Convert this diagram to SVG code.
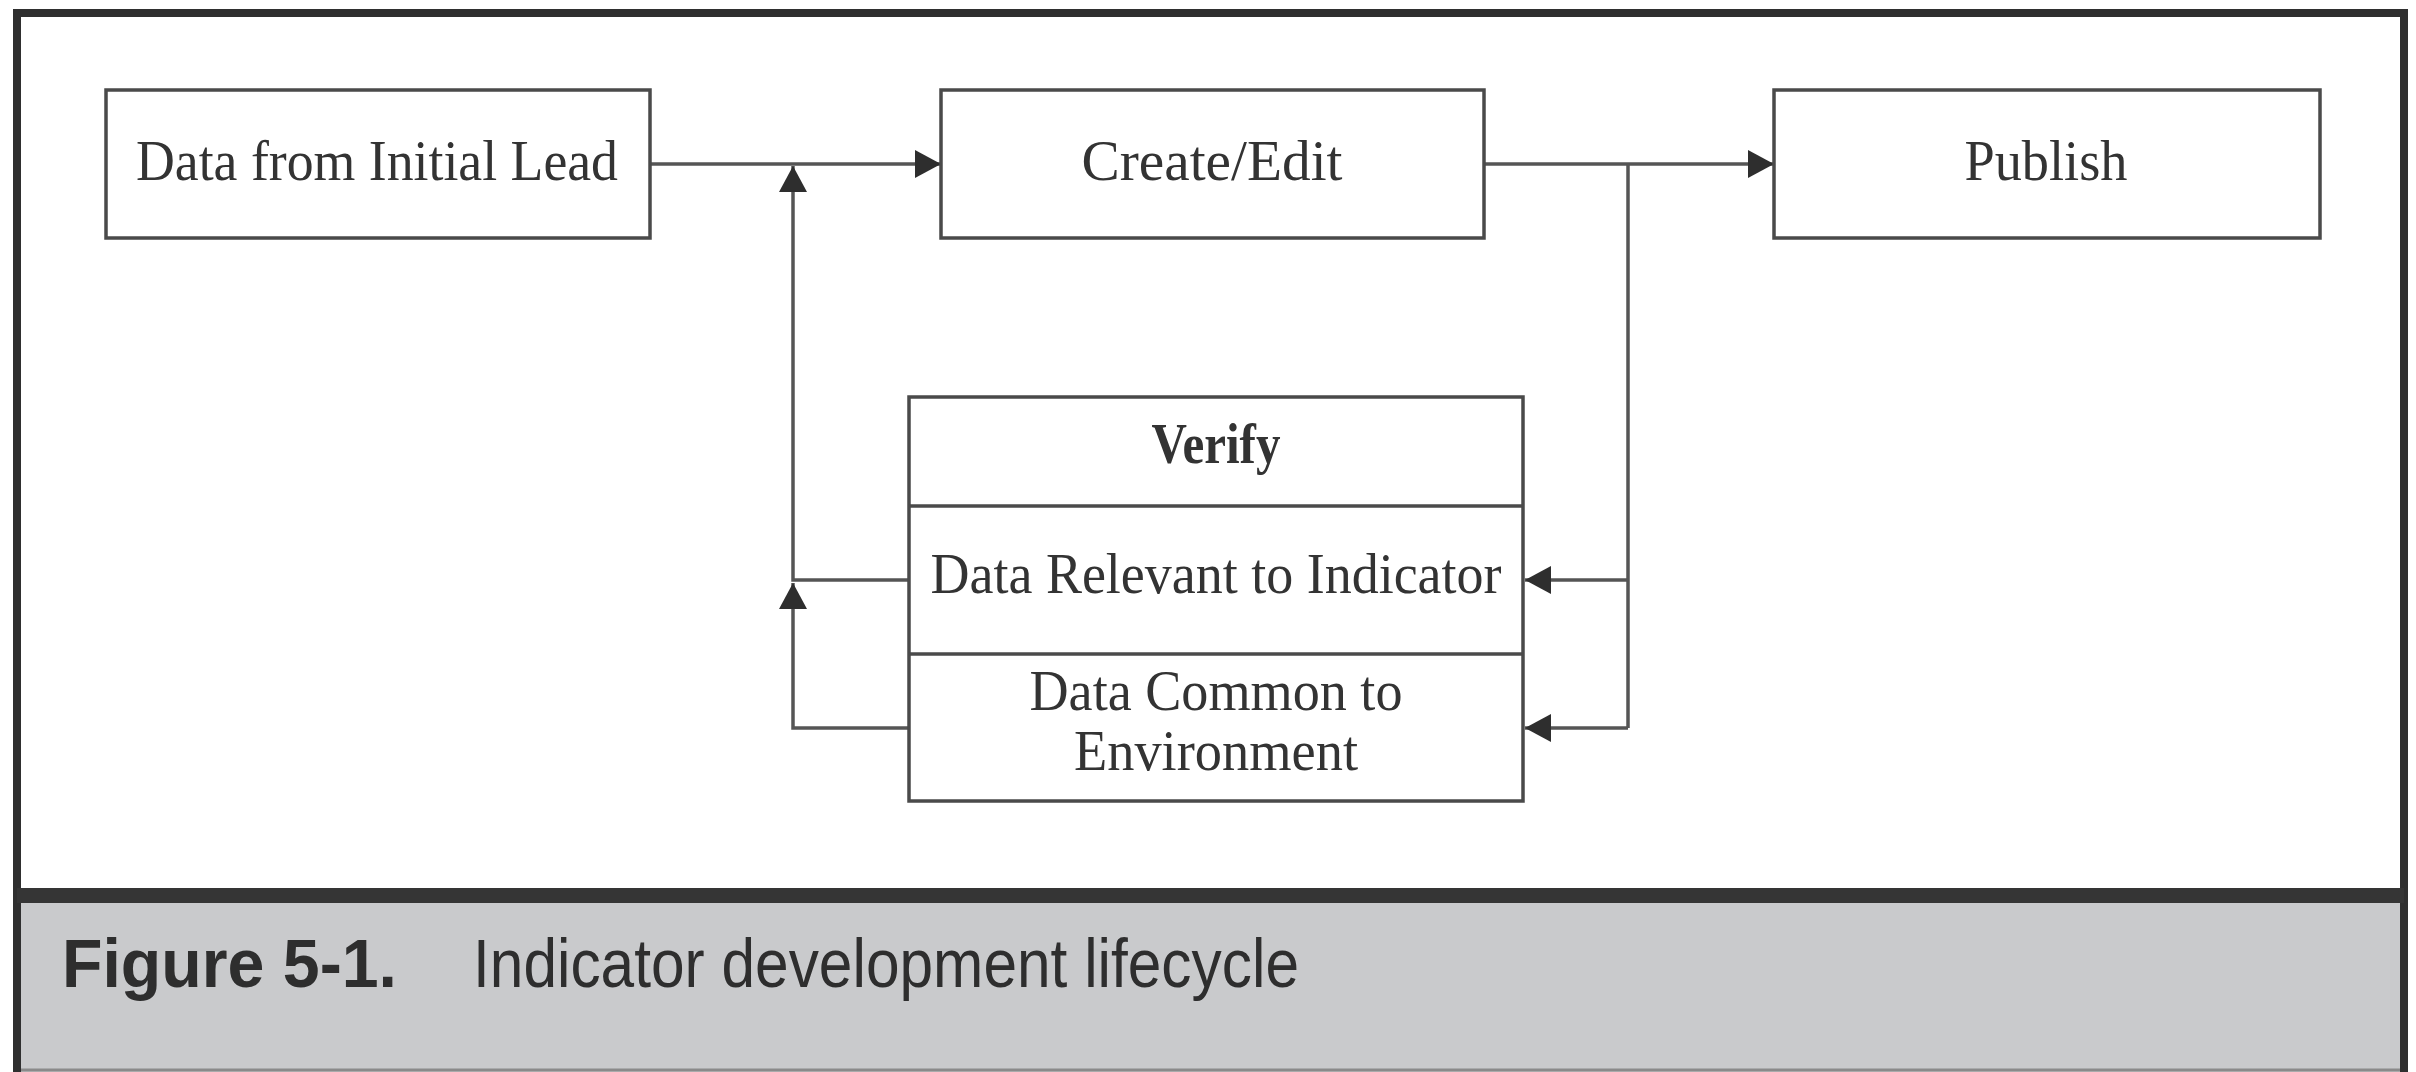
<svg xmlns="http://www.w3.org/2000/svg" width="2416" height="1072" viewBox="0 0 2416 1072">
  <defs>
    <style>
      .box { fill: #ffffff; stroke: #4a4a4a; stroke-width: 3.5; }
      .div { stroke: #4a4a4a; stroke-width: 3.5; fill: none; }
      .lbl { font-family: "Liberation Serif", "Times New Roman", serif; font-size: 57px; fill: #333333; text-anchor: middle; }
      .bold { font-weight: bold; }
      .conn { fill: none; stroke: #555555; stroke-width: 3.5; }
      .cap { font-family: "Liberation Sans", Arial, sans-serif; font-size: 69px; fill: #2e2e2e; }
    </style>
    <marker id="arrow" markerUnits="userSpaceOnUse" markerWidth="28" markerHeight="30" refX="27" refY="15" orient="auto" viewBox="0 0 28 30">
      <path d="M1,1 L27,15 L1,29 Z" fill="#2e2e2e"/>
    </marker>
  </defs>

  <!-- background and frame -->
  <rect x="0" y="0" width="2416" height="1072" fill="#ffffff"/>
  <rect x="17" y="903" width="2387" height="169" fill="#c9cacc"/>
  <line x1="17" y1="1070" x2="2404" y2="1070" stroke="#8a8a8a" stroke-width="3"/>
  <path d="M17,1072 L17,13 L2404,13 L2404,1072" fill="none" stroke="#2f2f2f" stroke-width="8"/>
  <line x1="17" y1="895.5" x2="2404" y2="895.5" stroke="#353535" stroke-width="15"/>

  <!-- caption -->
  <g id="caption">
    <text class="cap bold" x="62" y="987" textLength="335" lengthAdjust="spacingAndGlyphs">Figure 5-1.</text>
    <text class="cap" x="473" y="987" textLength="826" lengthAdjust="spacingAndGlyphs">Indicator development lifecycle</text>
  </g>

  <!-- connectors -->
  <g id="connectors">
    <line class="conn" x1="650" y1="164" x2="941" y2="164" marker-end="url(#arrow)"/>
    <line class="conn" x1="1484" y1="164" x2="1774" y2="164" marker-end="url(#arrow)"/>
    <line class="conn" x1="1628" y1="164" x2="1628" y2="728"/>
    <line class="conn" x1="1628" y1="580" x2="1525" y2="580" marker-end="url(#arrow)"/>
    <line class="conn" x1="1628" y1="728" x2="1525" y2="728" marker-end="url(#arrow)"/>
    <polyline class="conn" points="909,580 793,580 793,166" marker-end="url(#arrow)"/>
    <polyline class="conn" points="909,728 793,728 793,583" marker-end="url(#arrow)"/>
  </g>

  <!-- nodes -->
  <g id="node-initial-lead">
    <rect class="box" x="106" y="90" width="544" height="148"/>
    <text class="lbl" x="377" y="180" textLength="482" lengthAdjust="spacingAndGlyphs">Data from Initial Lead</text>
  </g>

  <g id="node-create-edit">
    <rect class="box" x="941" y="90" width="543" height="148"/>
    <text class="lbl" x="1212" y="180" textLength="261" lengthAdjust="spacingAndGlyphs">Create/Edit</text>
  </g>

  <g id="node-publish">
    <rect class="box" x="1774" y="90" width="546" height="148"/>
    <text class="lbl" x="2046" y="180" textLength="163" lengthAdjust="spacingAndGlyphs">Publish</text>
  </g>

  <g id="node-verify">
    <rect class="box" x="909" y="397" width="614" height="404"/>
    <line class="div" x1="909" y1="506" x2="1523" y2="506"/>
    <line class="div" x1="909" y1="654" x2="1523" y2="654"/>
    <text class="lbl bold" x="1216" y="463" textLength="129" lengthAdjust="spacingAndGlyphs">Verify</text>
    <text class="lbl" x="1216" y="593" textLength="571" lengthAdjust="spacingAndGlyphs">Data Relevant to Indicator</text>
    <text class="lbl" x="1216" y="710" textLength="373" lengthAdjust="spacingAndGlyphs">Data Common to</text>
    <text class="lbl" x="1216" y="770" textLength="284" lengthAdjust="spacingAndGlyphs">Environment</text>
  </g>
</svg>
